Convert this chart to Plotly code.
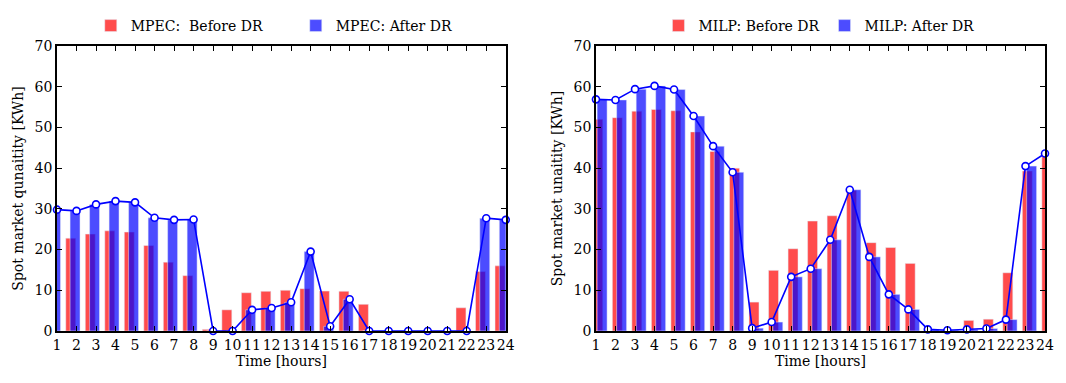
import plotly.graph_objects as go
from plotly.subplots import make_subplots

hours = list(range(1, 25))

# MPEC (left panel)
mpec_before = [22.0, 22.8, 23.8, 24.6, 24.3, 21.0, 16.9, 13.6, 0.4, 5.2, 9.4, 9.75,
               10.0, 10.4, 9.8, 9.75, 6.55, 0, 0, 0, 0, 5.7, 14.6, 16.0]
mpec_after = [29.8, 29.5, 31.1, 31.9, 31.6, 27.8, 27.3, 27.4, 0, 0, 5.2, 5.65,
              7.05, 19.5, 1.15, 7.8, 0, 0, 0, 0, 0, 0, 27.7, 27.3]

# MILP (right panel)
milp_before = [52.0, 52.4, 54.0, 54.4, 54.1, 48.9, 44.1, 40.0, 7.1, 14.9, 20.2, 27.0,
               28.3, 34.6, 21.7, 20.5, 16.6, 0, 0, 2.6, 2.9, 14.3, 39.3, 42.8]
milp_after = [56.9, 56.75, 59.4, 60.2, 59.3, 52.8, 45.4, 39.0, 0.7, 2.2, 13.3, 15.3,
              22.4, 34.7, 18.2, 9.0, 5.3, 0.4, 0.2, 0.4, 0.6, 2.8, 40.5, 43.6]

tick_labels = [str(h) for h in hours]

RED = 'rgba(255,0,0,0.7)'
BLUE = 'rgba(0,0,255,0.7)'
LINE = '#0000ff'
FONT = 'DejaVu Serif'

fig = make_subplots(rows=1, cols=2)

# left panel
fig.add_trace(go.Bar(x=hours, y=mpec_before, name='MPEC:\u00a0 Before DR',
                     marker_color=RED, offset=-0.55, width=0.51,
                     legend='legend'), row=1, col=1)
fig.add_trace(go.Bar(x=hours, y=mpec_after, name='MPEC: After DR',
                     marker_color=BLUE, offset=-0.33, width=0.51,
                     legend='legend'), row=1, col=1)
fig.add_trace(go.Scatter(x=hours, y=mpec_after, mode='lines+markers',
                         line=dict(color=LINE, width=1.6),
                         marker=dict(color='white', size=7,
                                     line=dict(color=LINE, width=1.6)),
                         cliponaxis=False, showlegend=False), row=1, col=1)

# right panel
fig.add_trace(go.Bar(x=hours, y=milp_before, name='MILP: Before DR',
                     marker_color=RED, offset=-0.16, width=0.51,
                     legend='legend2'), row=1, col=2)
fig.add_trace(go.Bar(x=hours, y=milp_after, name='MILP: After DR',
                     marker_color=BLUE, offset=0.06, width=0.51,
                     legend='legend2'), row=1, col=2)
fig.add_trace(go.Scatter(x=hours, y=milp_after, mode='lines+markers',
                         line=dict(color=LINE, width=1.6),
                         marker=dict(color='white', size=7,
                                     line=dict(color=LINE, width=1.6)),
                         cliponaxis=False, showlegend=False), row=1, col=2)

axis_style = dict(showline=True, linecolor='black', linewidth=1.5, mirror='ticks',
                  ticks='inside', ticklen=5, tickwidth=1, tickcolor='black',
                  showgrid=False, zeroline=False, automargin=False,
                  tickfont=dict(family=FONT, size=14, color='black'))

fig.update_xaxes(range=[1, 24], tickmode='array', tickvals=hours, ticktext=tick_labels,
                 tickangle=0,
                 title=dict(text='Time [hours]', font=dict(family=FONT, size=14, color='black'),
                            standoff=4),
                 **axis_style)
fig.update_yaxes(range=[0, 70], dtick=10, **axis_style)

title_font = dict(family=FONT, size=14, color='black')
legend_style = dict(orientation='h', xanchor='center', yanchor='middle',
                    xref='container', yref='container', y=0.952,
                    font=dict(family=FONT, size=14, color='black'), itemwidth=30,
                    bgcolor='rgba(0,0,0,0)')
fig.update_layout(
    xaxis=dict(domain=[0.0, 0.4542]),
    xaxis2=dict(domain=[0.5455, 1.0]),
    yaxis=dict(domain=[0, 1],
               title=dict(text='Spot market qunaitity [KWh]', font=title_font, standoff=8)),
    yaxis2=dict(domain=[0, 1],
                title=dict(text='Spot market unaitity [KWh]', font=title_font, standoff=8)),
    barmode='overlay',
    legend=dict(x=0.272, entrywidth=160, **legend_style),
    legend2=dict(x=0.7665, **legend_style),
    width=1058, height=375,
    margin=dict(l=49, r=21, t=38, b=52),
    plot_bgcolor='white', paper_bgcolor='white',
    font=dict(family=FONT, color='black'),
)

fig.write_html("out.html")
